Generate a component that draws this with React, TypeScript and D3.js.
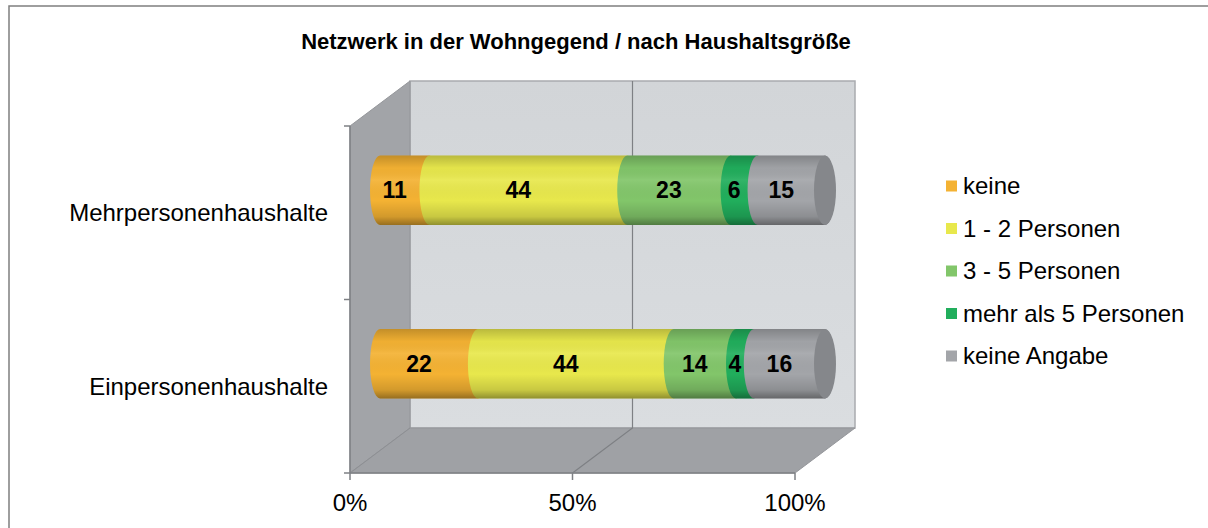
import React from 'react';
import * as d3 from 'd3';

const categories = ['Mehrpersonenhaushalte', 'Einpersonenhaushalte'];
const seriesNames = ['keine', '1 - 2 Personen', '3 - 5 Personen', 'mehr als 5 Personen', 'keine Angabe'];
const mehrpersonen = [11, 44, 23, 6, 15];
const einpersonen = [22, 44, 14, 4, 16];
const seriesColors = ['#F4B233', '#E8E84C', '#82C66A', '#21AE5C', '#A3A5A9'];
const xTicks = [0, 0.5, 1];
const title = 'Netzwerk in der Wohngegend / nach Haushaltsgröße';

const W = 1208, H = 528;
const font = '"Liberation Sans", Arial, sans-serif';

// oblique depth of the 3d box
const DX = 60, DY = -45;

export default function App() {
  const rows = categories.map((c, i) => {
    const vals = i === 0 ? mehrpersonen : einpersonen;
    const r: any = { cat: c };
    seriesNames.forEach((s, j) => { r[s] = vals[j]; });
    return r;
  });
  const stacked = d3.stack().keys(seriesNames).offset(d3.stackOffsetExpand)(rows);

  const x = d3.scaleLinear().domain([0, 1]).range([350, 795]);
  const y = d3.scaleBand().domain(categories).range([126, 473]);
  const left = x(0), right = x(1), top = y.range()[0], bottom = y.range()[1];

  const barR = y.bandwidth() * 0.2;
  const rx = 10;
  const bx = (v: number) => x(v) + DX / 2;
  const by = (c: string) => (y(c) as number) + y.bandwidth() / 2 + DY / 2;

  // one cylinder piece: left half ellipse at x0, right half ellipse at x1
  const segPath = (x0: number, x1: number, cy: number) =>
    `M${x0},${cy - barR} A${rx},${barR} 0 0 0 ${x0},${cy + barR} L${x1},${cy + barR} A${rx},${barR} 0 0 0 ${x1},${cy - barR} Z`;

  const sideWall = `M${left},${top} L${left + DX},${top + DY} L${left + DX},${bottom + DY} L${left},${bottom} Z`;
  const floor = `M${left},${bottom} L${left + DX},${bottom + DY} L${right + DX},${bottom + DY} L${right},${bottom} Z`;
  const lineCol = '#7E8084';

  return (
    <svg width={W} height={H} style={{ position: 'absolute', left: 0, top: 0 }} fontFamily={font}>
      <defs>
        <linearGradient id="cyl" x1="0" y1="0" x2="0" y2="1">
          <stop offset="0" stopColor="#000" stopOpacity={0.2} />
          <stop offset="0.18" stopColor="#000" stopOpacity={0.02} />
          <stop offset="0.35" stopColor="#fff" stopOpacity={0.08} />
          <stop offset="0.65" stopColor="#000" stopOpacity={0} />
          <stop offset="0.88" stopColor="#000" stopOpacity={0.14} />
          <stop offset="1" stopColor="#000" stopOpacity={0.38} />
        </linearGradient>
        <linearGradient id="backwall" x1="0" y1="0" x2="0" y2="1">
          <stop offset="0" stopColor="#D2D5D8" />
          <stop offset="1" stopColor="#DADDE0" />
        </linearGradient>
      </defs>
      <rect x={0} y={0} width={W} height={H} fill="#fff" />
      <rect x={9} y={6} width={W + 10} height={H + 10} fill="none" stroke="#7F7F7F" strokeWidth={1.5} />

      <text x={576} y={49} textAnchor="middle" fontSize={22} fontWeight="bold" fill="#000">{title}</text>

      {/* walls */}
      <rect x={left + DX} y={top + DY} width={right - left} height={bottom - top}
        fill="url(#backwall)" stroke="#A9ABAF" strokeWidth={1.5} />
      <path d={sideWall} fill="#A2A4A8" stroke="#94969A" strokeWidth={1} />
      <path d={floor} fill="#9FA1A5" stroke="#94969A" strokeWidth={1} />

      {/* gridlines */}
      {xTicks.filter(t => t > 0 && t < 1).map(t => (
        <path key={t} d={`M${x(t) + DX},${top + DY} L${x(t) + DX},${bottom + DY} L${x(t)},${bottom}`}
          fill="none" stroke={lineCol} strokeWidth={1.2} />
      ))}
      <path d={`M${left},${bottom} L${left + DX},${bottom + DY}`} stroke="#8E9094" strokeWidth={1} />

      {/* bars */}
      {categories.map((c, ci) => {
        const cy = by(c);
        return (
          <g key={c}>
            {stacked.map((s, si) => (
              <path key={s.key} d={segPath(bx(s[ci][0]), bx(s[ci][1]), cy)} fill={seriesColors[si]} />
            ))}
            <path d={segPath(bx(0), bx(1), cy)} fill="url(#cyl)" />
            <ellipse cx={bx(1)} cy={cy} rx={rx + 1} ry={barR} fill="#85878B" />
            {stacked.map(s => (
              <text key={s.key} x={bx((s[ci][0] + s[ci][1]) / 2) - rx} y={cy} dy="0.35em"
                textAnchor="middle" fontSize={23} fontWeight="bold" fill="#000">
                {rows[ci][s.key]}
              </text>
            ))}
          </g>
        );
      })}

      {/* axes */}
      <line x1={left} y1={top} x2={left} y2={bottom} stroke={lineCol} strokeWidth={1.5} />
      {[top, ...categories.map(c => (y(c) as number) + y.bandwidth())].map((v, i) => (
        <line key={i} x1={left - 6} y1={v} x2={left} y2={v} stroke={lineCol} strokeWidth={1.5} />
      ))}
      <line x1={left} y1={bottom} x2={right} y2={bottom} stroke={lineCol} strokeWidth={1.5} />
      {xTicks.map(t => (
        <g key={t}>
          <line x1={x(t)} y1={bottom} x2={x(t)} y2={bottom + 7} stroke={lineCol} strokeWidth={1.5} />
          <text x={x(t)} y={511} textAnchor="middle" fontSize={24} fill="#000">{d3.format('.0%')(t)}</text>
        </g>
      ))}
      {categories.map(c => (
        <text key={c} x={328} y={(y(c) as number) + y.bandwidth() / 2} dy="0.35em" textAnchor="end"
          fontSize={24} fill="#000">{c}</text>
      ))}

      {/* legend */}
      {seriesNames.map((s, i) => (
        <g key={s} transform={`translate(946,${186 + i * 42.5})`}>
          <rect x={0} y={-5.5} width={11} height={11} fill={seriesColors[i]} />
          <text x={17} y={0} dy="0.35em" fontSize={24} fill="#000">{s}</text>
        </g>
      ))}
    </svg>
  );
}
